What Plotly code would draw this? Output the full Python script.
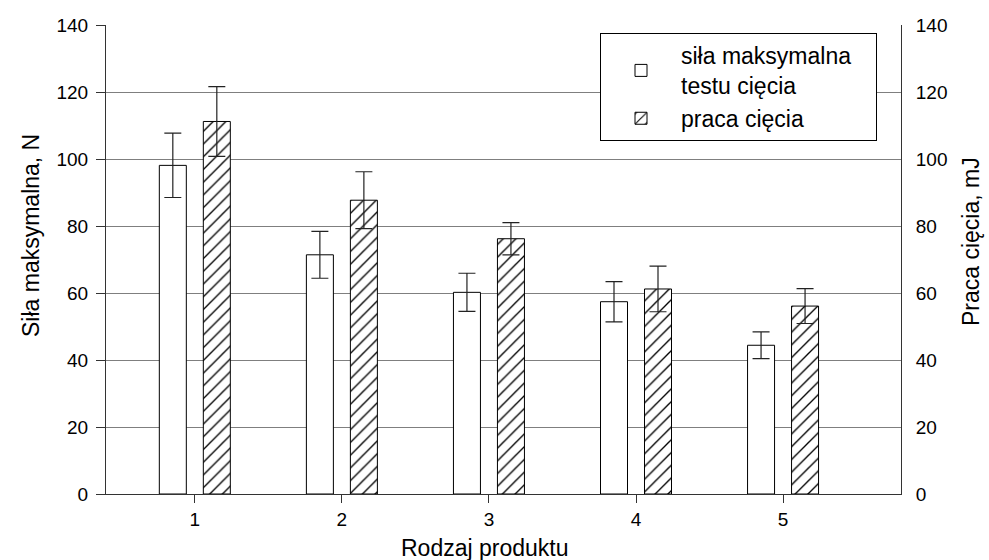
import plotly.graph_objects as go

# ---- data ----
products = [1, 2, 3, 4, 5]
sila = [98.1, 71.4, 60.2, 57.4, 44.4]
sila_err = [9.6, 7.0, 5.7, 6.0, 4.0]
praca = [111.2, 87.7, 76.2, 61.2, 56.1]
praca_err = [10.4, 8.5, 4.8, 6.8, 5.2]
y_ticks = [0, 20, 40, 60, 80, 100, 120, 140]
series_names = ["siła maksymalna<br>testu cięcia", "praca cięcia"]

FONT = "Liberation Sans, Arial, sans-serif"
BAR_W = 0.1836
LINE = "#000000"
GRID = "#7f7f7f"
PAD = "&nbsp;" * 3

fig = go.Figure()
fig.add_trace(go.Bar(
    x=products, y=sila, name=series_names[0].replace("<br>", PAD + "<br>") + PAD,
    width=BAR_W, offset=-0.2414,
    marker=dict(color="white", line=dict(color=LINE, width=1)),
    error_y=dict(type="data", array=sila_err, visible=True,
                 color="#222222", thickness=1.2, width=8.5),
    yaxis="y",
))
fig.add_trace(go.Bar(
    x=products, y=praca, name=series_names[1],
    width=BAR_W, offset=0.0578,
    marker=dict(color="white", line=dict(color=LINE, width=1),
                pattern=dict(shape="/", fgcolor="black", bgcolor="white",
                             fgopacity=1, size=9, solidity=0.15)),
    error_y=dict(type="data", array=praca_err, visible=True,
                 color="#222222", thickness=1.2, width=8.5),
    yaxis="y2",
))

fig.update_layout(
    width=989, height=560,
    margin=dict(l=106, r=88, t=25, b=66),
    paper_bgcolor="white", plot_bgcolor="white",
    barmode="overlay",
    font=dict(family=FONT, size=19, color="black"),
    showlegend=True,
    legend=dict(x=(600 - 106) / 795, y=(494 - 33) / 469,
                xanchor="left", yanchor="top",
                bgcolor="white", bordercolor="black", borderwidth=1,
                font=dict(size=23), tracegroupgap=0,
                itemwidth=70),
    xaxis=dict(range=[0.396, 5.802], tickvals=products,
               ticktext=[str(p) for p in products],
               showgrid=False, zeroline=False,
               showline=True, linecolor="#333333", linewidth=1,
               ticks="outside", ticklen=8, tickcolor="#333333",
               tickfont=dict(size=19)),
    yaxis=dict(range=[0, 140], tickvals=y_ticks,
               showgrid=True, gridcolor=GRID, gridwidth=1,
               zeroline=False, showline=True, linecolor="#333333",
               ticks="outside", ticklen=9, tickcolor="#333333",
               ticklabelstandoff=4,
               tickfont=dict(size=19)),
    yaxis2=dict(range=[0, 140], tickvals=y_ticks, overlaying="y",
                side="right", showgrid=False, zeroline=False,
                showline=True, linecolor="#333333", ticks="",
                ticklabelstandoff=10,
                tickfont=dict(size=19)),
    annotations=[
        dict(text="Rodzaj produktu", xref="paper", yref="paper",
             x=(484.5 - 106) / 795, y=(494 - 548) / 469,
             xanchor="center", yanchor="middle", showarrow=False,
             font=dict(size=23)),
        dict(text="Siła maksymalna, N", xref="paper", yref="paper",
             x=(31 - 106) / 795, y=(494 - 236) / 469, textangle=-90,
             xanchor="center", yanchor="middle", showarrow=False,
             font=dict(size=23)),
        dict(text="Praca cięcia, mJ", xref="paper", yref="paper",
             x=(971 - 106) / 795, y=(494 - 242) / 469, textangle=-90,
             xanchor="center", yanchor="middle", showarrow=False,
             font=dict(size=23)),
    ],
)

fig.write_html("out.html", config={"displayModeBar": False},
               post_script="document.body.style.margin='0';")
